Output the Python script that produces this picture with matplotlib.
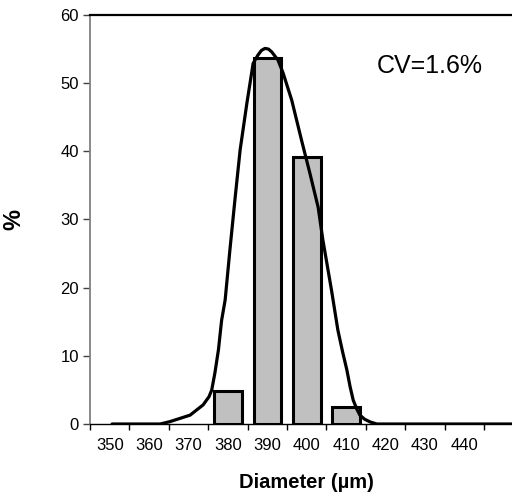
import matplotlib
matplotlib.use('Agg')
import matplotlib.pyplot as plt

plt.rcParams['font.family'] = ['Liberation Sans', 'DejaVu Sans']

# histogram bars (diameter class centre, %)
binCenters = [380, 390, 400, 410]
binValues = [4.8, 53.7, 39.1, 2.5]

# fitted curve
curveX = [350.6, 353.4, 362.8, 365.3, 370.4, 373.7, 375.2, 375.9, 376.7, 377.6, 378.4,
          379.3, 380.5, 381.8, 383.1, 384.8, 386.4, 387.6, 388.5, 389.4, 390.3, 391.1,
          392.7, 394.0, 396.2, 398.7, 400.8, 402.9, 404.1, 406.3, 407.9, 409.1, 410.2,
          411.0, 411.8, 412.7, 413.5, 414.7, 416.1, 417.8, 452.5]
curveY = [0, 0, 0, 0.35, 1.3, 2.8, 4.0, 5.0, 7.5, 10.9, 15.2,
          18.2, 25.5, 33.0, 40.2, 47.0, 52.9, 54.1, 54.8, 55.1, 55.0, 54.6,
          53.4, 51.5, 47.5, 41.6, 36.8, 31.8, 27.0, 19.6, 13.8, 10.6, 7.9,
          5.5, 3.5, 2.2, 1.3, 0.7, 0.3, 0, 0]

tickLabels = [350, 360, 370, 380, 390, 400, 410, 420, 430, 440]
yTicks = [0, 10, 20, 30, 40, 50, 60]

fig = plt.figure(figsize=(5.12, 4.99), dpi=100)
ax = fig.add_axes([90 / 512, 1 - 424 / 499, 1 - 90 / 512, (424 - 15) / 499])

ax.bar(binCenters, binValues, width=7.0, color='#c0c0c0', edgecolor='black',
       linewidth=2.2, zorder=2)
ax.plot(curveX, curveY, color='black', linewidth=2.3, solid_joinstyle='round',
        solid_capstyle='round', zorder=3)

ax.set_xlim(345, 452.1)
ax.set_ylim(0, 60)

ax.set_xticks(tickLabels)
ax.set_xticklabels([str(t) for t in tickLabels])
ax.set_xticks([345 + 10 * i for i in range(11)], minor=True)
ax.tick_params(axis='x', which='major', length=0, pad=10, labelsize=12)
ax.tick_params(axis='x', which='minor', length=4, width=1, direction='out', color='black')

ax.set_yticks(yTicks)
ax.tick_params(axis='y', length=5, width=1, direction='out', labelsize=12, pad=3, color='#404040')

ax.spines['right'].set_visible(False)
ax.spines['top'].set_color('black')
ax.spines['top'].set_linewidth(1.6)
ax.spines['left'].set_color('#808080')
ax.spines['left'].set_linewidth(1.3)
ax.spines['bottom'].set_color('black')
ax.spines['bottom'].set_linewidth(1.0)

ax.set_ylabel('%', fontsize=17, fontweight='bold')
ax.yaxis.set_label_coords(-0.154, 0.5)
ax.set_xlabel('Diameter (µm)', fontsize=14.5, fontweight='bold')
ax.xaxis.set_label_coords(0.512, -0.12)

ax.text(0.806, 0.8765, 'CV=1.6%', transform=ax.transAxes, fontsize=18,
        ha='center', va='center')

plt.savefig('out.png', dpi=100)
plt.close()
